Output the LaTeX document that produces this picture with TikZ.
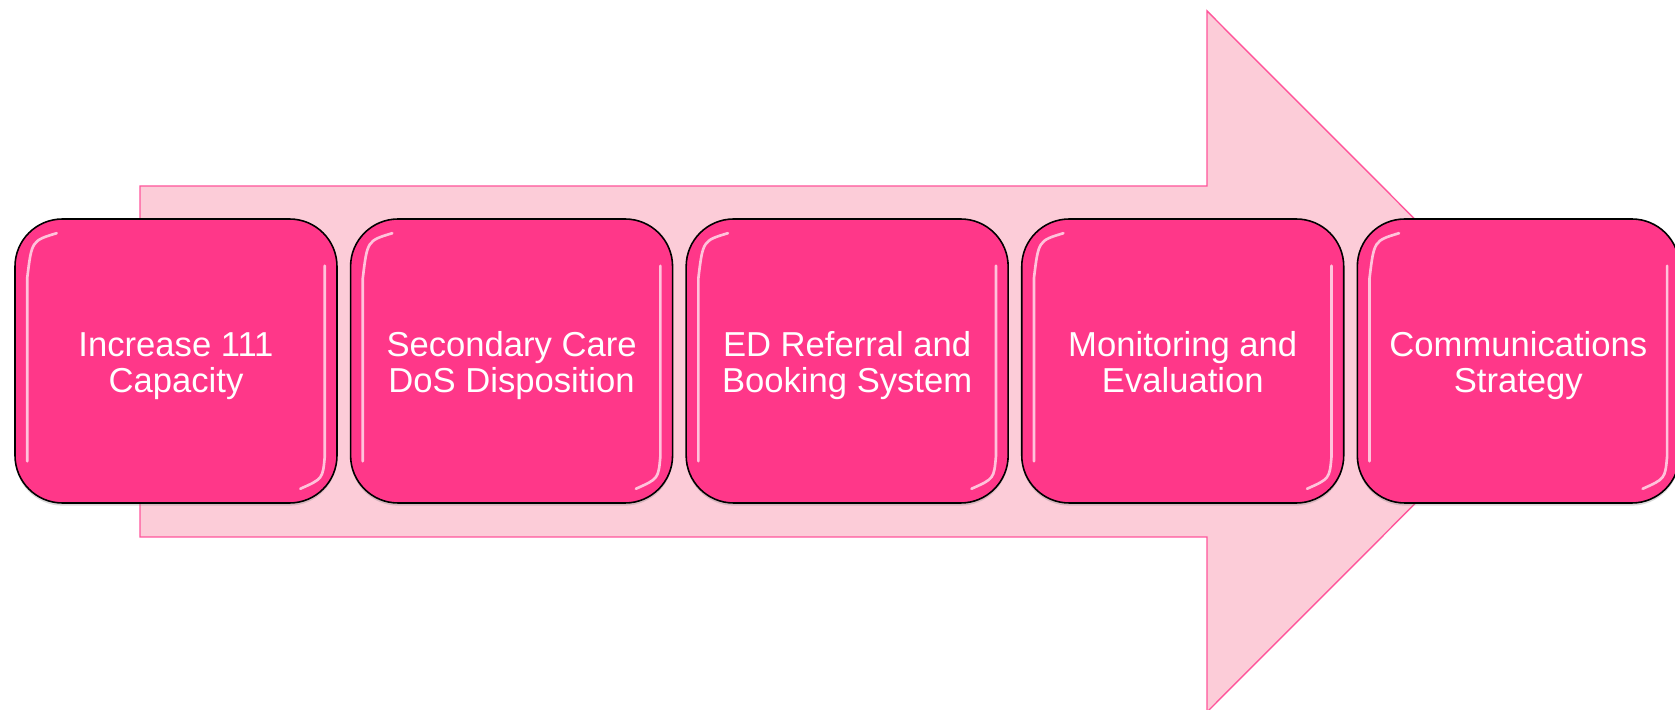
\documentclass[tikz,border=0pt]{standalone}
\usepackage{fontspec}
\setmainfont{Liberation Sans}
\usetikzlibrary{positioning, calc, shadows}

\definecolor{hotpink}{RGB}{255,55,137}
\definecolor{palepink}{RGB}{252,204,216}
\definecolor{pinkline}{RGB}{255,85,155}

\newcommand{\twolines}[2]{\rule{0pt}{21pt}#1\\#2\strut}

\tikzset{
  stage/.style={draw=black, line width=0.9pt, fill=hotpink, rounded corners=0.95cm,
    minimum width=6.44cm, minimum height=5.68cm, align=center, text=white,
    font=\fontsize{19.7}{20.5}\selectfont,
    drop shadow={opacity=0.3, shadow xshift=0pt, shadow yshift=-1.5pt}},
  gloss/.style={white, opacity=0.7, line width=1.5pt, line cap=round}
}

\begin{document}
\begin{tikzpicture}
                  \useasboundingbox (0,0) rectangle (33.5,14.2);

                  % background arrow
                  \draw[pinkline, fill=palepink, line width=0.8pt] (2.8,3.46) -- (2.8,10.48) -- (24.14,10.48) -- (24.14,13.98)
                    -- (31.14,6.97) -- (24.14,-0.04) -- (24.14,3.46) -- cycle;

                  \node[stage] (s1) at (3.52,6.98) {\twolines{Increase 111}{Capacity}};
                  \node[stage, right=0.24cm of s1] (s2) {\twolines{Secondary Care}{DoS Disposition}};
                  \node[stage, right=0.24cm of s2] (s3) {\twolines{ED Referral and}{Booking System}};
                  \node[stage, right=0.24cm of s3] (s4) {\twolines{Monitoring and}{Evaluation}};
                  \node[stage, right=0.24cm of s4] (s5) {\twolines{Communications}{Strategy}};

                  % glossy edges
                  \foreach \n in {s1,s2,s3,s4,s5} {
                    \draw[gloss] ($(\n.north west)+(0.85,-0.3)$) .. controls ($(\n.north west)+(0.35,-0.45)$) .. ($(\n.north west)+(0.26,-1.2)$)
                      -- ($(\n.south west)+(0.26,0.85)$);
                    \draw[gloss] ($(\n.north east)+(-0.26,-0.95)$) -- ($(\n.south east)+(-0.26,0.95)$)
                      .. controls ($(\n.south east)+(-0.3,0.5)$) .. ($(\n.south east)+(-0.75,0.3)$);
                  }
              \end{tikzpicture}
\end{document}
